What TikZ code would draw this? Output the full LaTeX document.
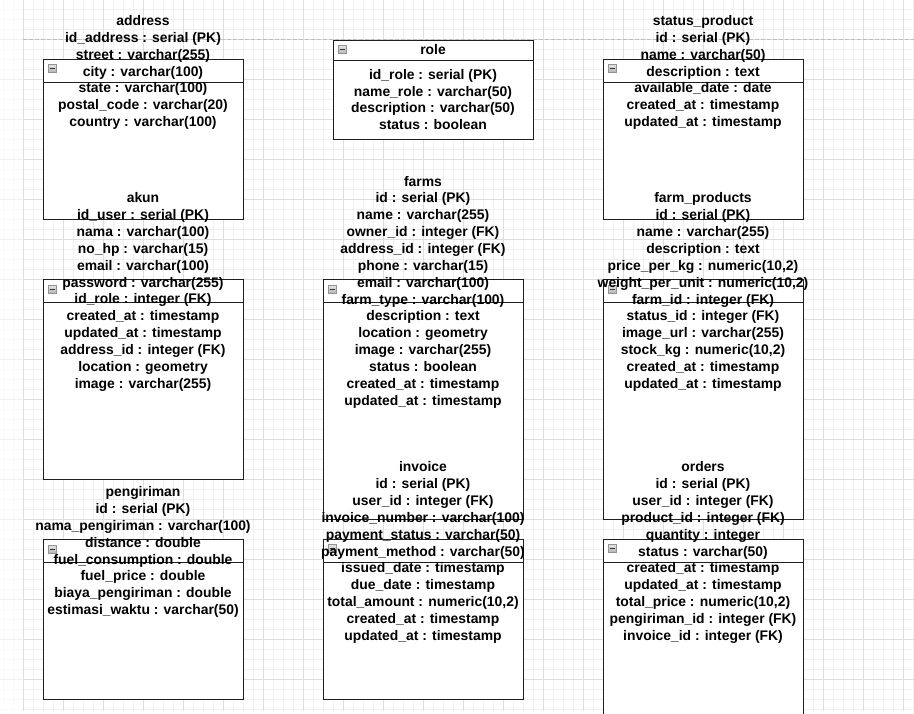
\documentclass[tikz,border=0pt]{standalone}
\usepackage{fontspec}
\setmainfont{Liberation Sans}

\definecolor{gridminor}{HTML}{F0F0F0}
\definecolor{gridmajor}{HTML}{DEDEDE}
\definecolor{pageline}{HTML}{BDBDBD}
\definecolor{boxline}{HTML}{1E1E1E}

\begin{document}
\begin{tikzpicture}[
  x=1pt, y=-1pt,
  tablebox/.style={draw=boxline, fill=white, line width=1pt, rectangle,
    inner sep=0pt, outer sep=0pt, minimum width=200pt},
  headline/.style={draw=boxline, line width=1pt},
  minusicon/.style={draw=gray!85, line width=0.6pt, top color=gray!20, bottom color=gray!60,
    minimum size=8.5pt, inner sep=0pt, outer sep=0pt, anchor=north west,
    path picture={\draw[black!80, line width=1.4pt]
      ([xshift=1.5pt]path picture bounding box.west) --
      ([xshift=-1.5pt]path picture bounding box.east);}},
  fieldtext/.style={align=center, inner sep=0pt, text=black,
    font=\fontsize{13.9pt}{16.85pt}\selectfont\bfseries},
]
\useasboundingbox (0,0) rectangle (914,713);

% canvas grid
\foreach \gx in {3,13,...,913} \draw[gridminor, line width=0.8pt] (\gx,0) -- (\gx,711);
\foreach \gy in {9,19,...,709} \draw[gridminor, line width=0.8pt] (0,\gy) -- (914,\gy);
\foreach \gx in {23,63,...,903} \draw[gridmajor, line width=0.9pt] (\gx,0) -- (\gx,711);
\foreach \gy in {39,79,...,679} \draw[gridmajor, line width=0.9pt] (0,\gy) -- (914,\gy);
\fill[white, opacity=0.6] (0,0) rectangle (22.5,713);
\fill[white] (0,711) rectangle (914,713);
\draw[pageline, line width=1pt, dash pattern=on 4pt off 2pt] (23,39) -- (914,39);

% table frames
\node[tablebox, minimum height=160pt] (address) at (143,139) {};
\node[tablebox, minimum height=99pt] (role) at (433,89.5) {};
\node[tablebox, minimum height=160pt] (statusproduct) at (703,139) {};
\node[tablebox, minimum height=200pt] (akun) at (143,379) {};
\node[tablebox, minimum height=240pt] (farms) at (423,399) {};
\node[tablebox, minimum height=240pt] (farmproducts) at (703,399) {};
\node[tablebox, minimum height=160pt] (pengiriman) at (143,619) {};
\node[tablebox, minimum height=160pt] (invoice) at (423,619) {};
\node[tablebox, minimum height=200pt] (orders) at (703,639) {};

% header separators
\draw[headline] ([yshift=-23pt]address.north west) -- ([yshift=-23pt]address.north east);
\draw[headline] ([yshift=-20pt]role.north west) -- ([yshift=-20pt]role.north east);
\draw[headline] ([yshift=-23pt]statusproduct.north west) -- ([yshift=-23pt]statusproduct.north east);
\draw[headline] ([yshift=-23pt]akun.north west) -- ([yshift=-23pt]akun.north east);
\draw[headline] ([yshift=-23pt]farms.north west) -- ([yshift=-23pt]farms.north east);
\draw[headline] ([yshift=-23pt]farmproducts.north west) -- ([yshift=-23pt]farmproducts.north east);
\draw[headline] ([yshift=-23pt]pengiriman.north west) -- ([yshift=-23pt]pengiriman.north east);
\draw[headline] ([yshift=-23pt]invoice.north west) -- ([yshift=-23pt]invoice.north east);
\draw[headline] ([yshift=-23pt]orders.north west) -- ([yshift=-23pt]orders.north east);

% collapse toggles
\node[minusicon] (address-toggle) at ([xshift=5pt,yshift=-5pt]address.north west) {};
\node[minusicon] (role-toggle) at ([xshift=5pt,yshift=-5pt]role.north west) {};
\node[minusicon] (statusproduct-toggle) at ([xshift=5pt,yshift=-5pt]statusproduct.north west) {};
\node[minusicon] (akun-toggle) at ([xshift=5pt,yshift=-6pt]akun.north west) {};
\node[minusicon] (farms-toggle) at ([xshift=5pt,yshift=-6pt]farms.north west) {};
\node[minusicon] (farmproducts-toggle) at ([xshift=5pt,yshift=-6pt]farmproducts.north west) {};
\node[minusicon] (pengiriman-toggle) at ([xshift=5pt,yshift=-6pt]pengiriman.north west) {};
\node[minusicon] (invoice-toggle) at ([xshift=5pt,yshift=-5pt]invoice.north west) {};
\node[minusicon] (orders-toggle) at ([xshift=5pt,yshift=-5pt]orders.north west) {};

% field lists
\node[fieldtext] (address-fields) at (143,72.5) {address\\id\_address : serial (PK)\\street : varchar(255)\\city : varchar(100)\\state : varchar(100)\\postal\_code : varchar(20)\\country : varchar(100)};

\node[fieldtext, anchor=base] (role-title) at (433,54) {role};
\node[fieldtext] (role-fields) at (433,99.5) {id\_role : serial (PK)\\name\_role : varchar(50)\\description : varchar(50)\\status : boolean};

\node[fieldtext] (statusproduct-fields) at (703,72.5) {status\_product\\id : serial (PK)\\name : varchar(50)\\description : text\\available\_date : date\\created\_at : timestamp\\updated\_at : timestamp};

\node[fieldtext] (akun-fields) at (143,292) {akun\\id\_user : serial (PK)\\nama : varchar(100)\\no\_hp : varchar(15)\\email : varchar(100)\\password : varchar(255)\\id\_role : integer (FK)\\created\_at : timestamp\\updated\_at : timestamp\\address\_id : integer (FK)\\location : geometry\\image : varchar(255)};

\node[fieldtext] (farms-fields) at (423,292) {farms\\id : serial (PK)\\name : varchar(255)\\owner\_id : integer (FK)\\address\_id : integer (FK)\\phone : varchar(15)\\email : varchar(100)\\farm\_type : varchar(100)\\description : text\\location : geometry\\image : varchar(255)\\status : boolean\\created\_at : timestamp\\updated\_at : timestamp};

\node[fieldtext] (farmproducts-fields) at (703,292) {farm\_products\\id : serial (PK)\\name : varchar(255)\\description : text\\price\_per\_kg : numeric(10,2)\\weight\_per\_unit : numeric(10,2)\\farm\_id : integer (FK)\\status\_id : integer (FK)\\image\_url : varchar(255)\\stock\_kg : numeric(10,2)\\created\_at : timestamp\\updated\_at : timestamp};

\node[fieldtext] (pengiriman-fields) at (143,552) {pengiriman\\id : serial (PK)\\nama\_pengiriman : varchar(100)\\distance : double\\fuel\_consumption : double\\fuel\_price : double\\biaya\_pengiriman : double\\estimasi\_waktu : varchar(50)};

\node[fieldtext] (invoice-fields) at (423,552.5) {invoice\\id : serial (PK)\\user\_id : integer (FK)\\invoice\_number : varchar(100)\\payment\_status : varchar(50)\\payment\_method : varchar(50)\\issued\_date : timestamp\\due\_date : timestamp\\total\_amount : numeric(10,2)\\created\_at : timestamp\\updated\_at : timestamp};

\node[fieldtext] (orders-fields) at (703,552.5) {orders\\id : serial (PK)\\user\_id : integer (FK)\\product\_id : integer (FK)\\quantity : integer\\status : varchar(50)\\created\_at : timestamp\\updated\_at : timestamp\\total\_price : numeric(10,2)\\pengiriman\_id : integer (FK)\\invoice\_id : integer (FK)};
\end{tikzpicture}
\end{document}
